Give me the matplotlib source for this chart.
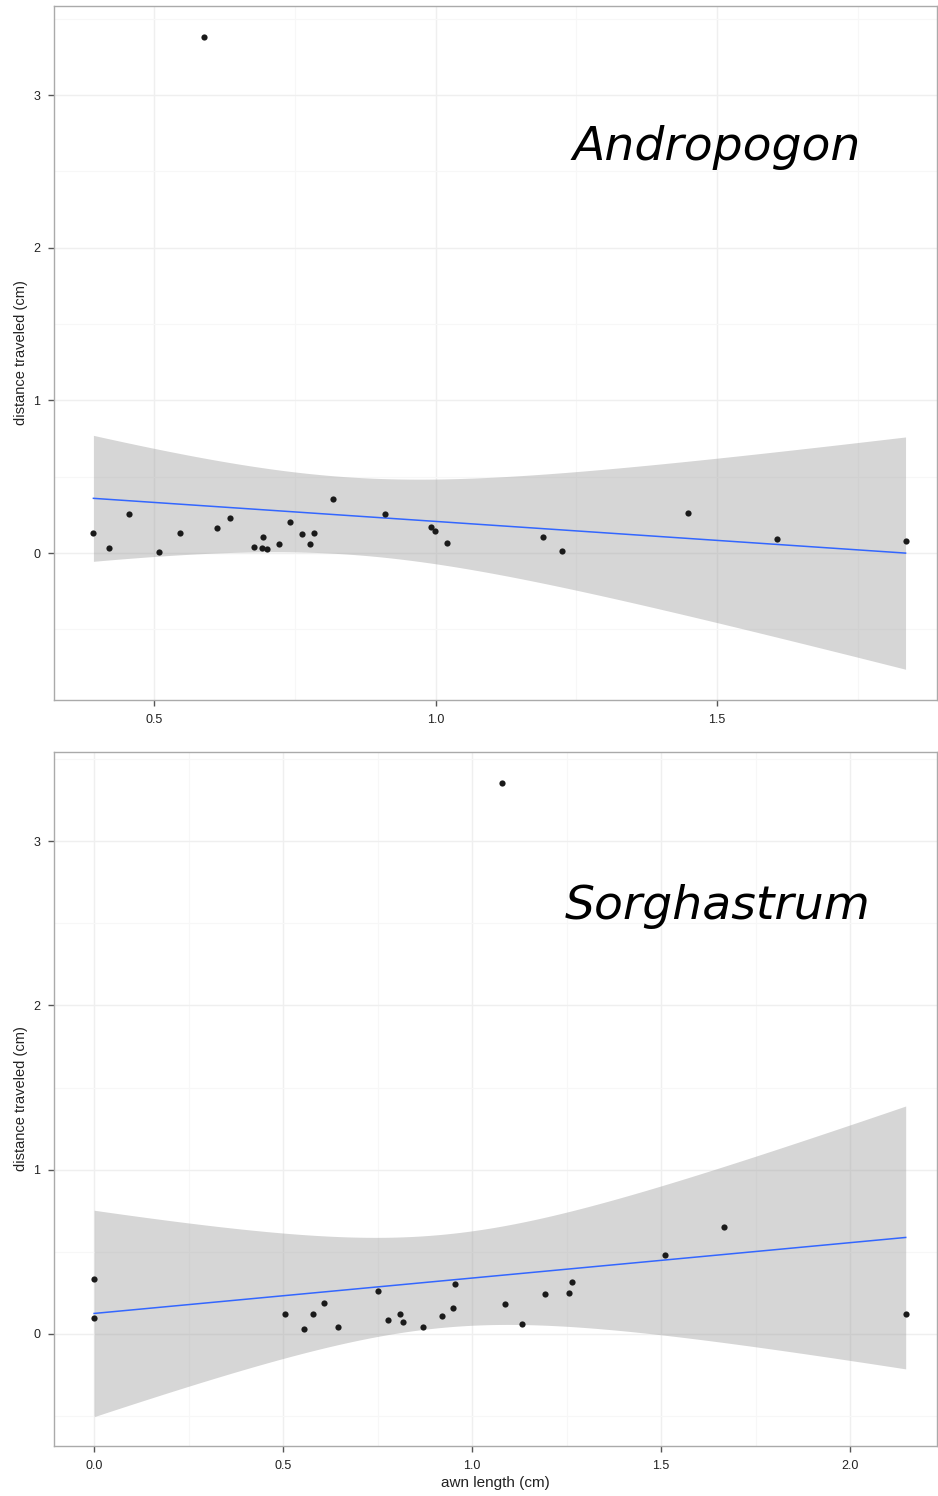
import matplotlib
matplotlib.use('Agg')
import matplotlib.pyplot as plt
import numpy as np
from matplotlib.ticker import FixedLocator

# Andropogon: awn length (cm) vs distance traveled (cm)
andro_x = [0.392, 0.419, 0.456, 0.508, 0.545, 0.589, 0.612, 0.635, 0.678, 0.691,
           0.694, 0.701, 0.722, 0.742, 0.762, 0.777, 0.784, 0.818, 0.910, 0.991,
           0.999, 1.020, 1.191, 1.224, 1.448, 1.607, 1.835]
andro_y = [0.133, 0.035, 0.255, 0.009, 0.133, 3.379, 0.162, 0.231, 0.037, 0.035,
           0.107, 0.026, 0.059, 0.205, 0.122, 0.059, 0.133, 0.354, 0.253, 0.172,
           0.144, 0.067, 0.103, 0.013, 0.260, 0.090, 0.081]

# Sorghastrum
sorg_x = [0.0, 0.0, 0.504, 0.555, 0.578, 0.608, 0.644, 0.752, 0.778, 0.810,
          0.818, 0.870, 0.920, 0.949, 0.954, 1.079, 1.087, 1.132, 1.193, 1.255,
          1.265, 1.511, 1.666, 2.147]
sorg_y = [0.335, 0.099, 0.122, 0.029, 0.122, 0.187, 0.044, 0.264, 0.085, 0.122,
          0.073, 0.044, 0.111, 0.160, 0.304, 3.354, 0.181, 0.061, 0.243, 0.248,
          0.315, 0.481, 0.651, 0.120]

T95 = {25: 2.060, 22: 2.074}


def lm_band(x, y):
    # linear fit with 95% confidence band, like geom_smooth(method='lm')
    x = np.asarray(x); y = np.asarray(y)
    n = len(x)
    b, a = np.polyfit(x, y, 1)
    resid = y - (a + b * x)
    s = np.sqrt(np.sum(resid ** 2) / (n - 2))
    xs = np.linspace(x.min(), x.max(), 200)
    fit = a + b * xs
    se = s * np.sqrt(1.0 / n + (xs - x.mean()) ** 2 / np.sum((x - x.mean()) ** 2))
    t = T95[n - 2]
    return xs, fit, fit - t * se, fit + t * se


def panel(ax, x, y, xlim, ylim, xmaj, xmin, ymin_ticks, title, tx, ty):
    ax.set_xlim(*xlim)
    ax.set_ylim(*ylim)
    ax.set_xticks(xmaj)
    ax.xaxis.set_minor_locator(FixedLocator(xmin))
    ax.set_yticks([0, 1, 2, 3])
    ax.yaxis.set_minor_locator(FixedLocator(ymin_ticks))
    ax.grid(which='major', color='#efefef', lw=1.0, zorder=0)
    ax.grid(which='minor', color='#f7f7f7', lw=0.8, zorder=0)
    ax.set_axisbelow(True)
    ax.tick_params(which='minor', length=0)
    ax.tick_params(which='major', length=4, width=1, color='#555555',
                   labelsize=9, labelcolor='#222222', pad=6)
    ax.set_xticklabels(['%.1f' % v for v in xmaj])
    for sp in ax.spines.values():
        sp.set_color('#aaaaaa')
        sp.set_linewidth(1.0)

    xs, fit, lo, hi = lm_band(x, y)
    ax.fill_between(xs, lo, hi, color='#999999', alpha=0.4, lw=0, zorder=2)
    ax.plot(xs, fit, color='#3366FF', lw=1.1, zorder=3)
    ax.scatter(x, y, s=20, color='#1a1a1a', lw=0, zorder=4)
    ax.text(tx, ty, title, transform=ax.transAxes, fontsize=34, style='italic',
            ha='center', va='center', family='DejaVu Sans')
    ax.set_ylabel('distance traveled (cm)', fontsize=10.5, color='#222222', labelpad=4)


plt.rcParams['font.family'] = ['Liberation Sans', 'DejaVu Sans']
fig = plt.figure(figsize=(9.38, 14.96), dpi=100)

ax1 = fig.add_axes([0.0576, 0.532, 0.9414, 0.464])
panel(ax1, andro_x, andro_y, (0.322, 1.891), (-0.963, 3.583),
      [0.5, 1.0, 1.5], [0.75, 1.25, 1.75], [-0.5, 0.5, 1.5, 2.5, 3.5],
      'Andropogon', 0.75, 0.796)

ax2 = fig.add_axes([0.0576, 0.0334, 0.9414, 0.4639])
panel(ax2, sorg_x, sorg_y, (-0.106, 2.230), (-0.682, 3.542),
      [0.0, 0.5, 1.0, 1.5, 2.0], [0.25, 0.75, 1.25, 1.75], [-0.5, 0.5, 1.5, 2.5, 3.5],
      'Sorghastrum', 0.752, 0.777)
ax2.set_xlabel('awn length (cm)', fontsize=11, color='#222222', labelpad=3)

fig.savefig('out.png', dpi=100)
